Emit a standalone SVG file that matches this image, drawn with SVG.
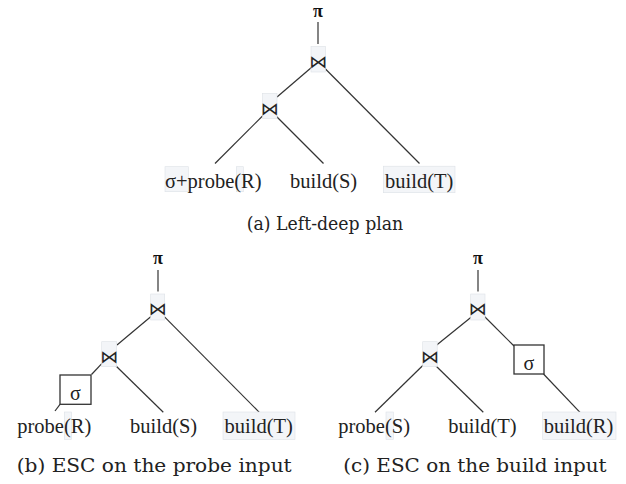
<svg xmlns="http://www.w3.org/2000/svg" width="626" height="484" viewBox="0 0 626 484">
<style>
.lbl{font-family:'Liberation Serif',Tinos,'Times New Roman',serif;font-size:20.5px;fill:#222}
.pi{font-family:'Liberation Serif',Tinos,'Times New Roman',serif;font-size:18px;fill:#111;text-anchor:middle;font-weight:bold}
.sig{font-family:'Liberation Serif',Tinos,'Times New Roman',serif;font-size:20px;fill:#222;text-anchor:middle}
.cap{font-family:'DejaVu Serif',serif;font-size:18px;fill:#222}
.join{font-family:'DejaVu Sans',sans-serif;font-size:18px;fill:#222;text-anchor:middle}
.hl{fill:#f3f5f8;stroke:#dde1e6;stroke-width:0.6}
.box{fill:#fff;stroke:#333;stroke-width:1.3}
.edge{stroke:#333;stroke-width:1.2;fill:none}
</style>
<rect width="626" height="484" fill="#fff"/>
<g id="connectors">
<line class="edge" x1="318" y1="22" x2="318" y2="44"/>
<line class="edge" x1="312" y1="67" x2="277" y2="97"/>
<line class="edge" x1="323.5" y1="67" x2="419.5" y2="163.5"/>
<line class="edge" x1="263.5" y1="115" x2="215" y2="163.5"/>
<line class="edge" x1="275" y1="115" x2="323.5" y2="163.5"/>
<line class="edge" x1="158" y1="270" x2="158" y2="291.5"/>
<line class="edge" x1="151" y1="316.5" x2="117" y2="345"/>
<line class="edge" x1="164.3" y1="316.7" x2="259.3" y2="412.3"/>
<line class="edge" x1="115" y1="365" x2="163.3" y2="412.3"/>
<line class="edge" x1="102" y1="363.3" x2="91.5" y2="374.5"/>
<line class="edge" x1="60" y1="404.3" x2="55" y2="411"/>
<line class="edge" x1="478" y1="270" x2="478" y2="291.5"/>
<line class="edge" x1="471.7" y1="316.7" x2="436.7" y2="345"/>
<line class="edge" x1="484" y1="316" x2="514" y2="346"/>
<line class="edge" x1="543.5" y1="374" x2="580" y2="412.3"/>
<line class="edge" x1="423.3" y1="365" x2="375" y2="412.3"/>
<line class="edge" x1="435" y1="365" x2="483.3" y2="412.3"/>
</g>
<g id="a-pi"><text class="pi" x="318" y="16.5">π</text></g>
<g id="a-join1"><rect class="hl" x="311" y="46.5" width="14.5" height="25.5"/><text class="join" x="318.2" y="68">⋈</text></g>
<g id="a-join2"><rect class="hl" x="262.5" y="93.5" width="14.5" height="25"/><text class="join" x="269.7" y="115">⋈</text></g>
<g id="a-R"><rect class="hl" x="165" y="166.7" width="23.3" height="25"/><rect class="hl" x="236.3" y="166.7" width="7" height="25"/><text class="lbl" x="165" y="187.5">σ+probe(R)</text></g>
<g id="a-S"><text class="lbl" x="290" y="187.5">build(S)</text></g>
<g id="a-T"><rect class="hl" x="383.3" y="166.2" width="71.7" height="26.5"/><text class="lbl" x="385" y="187.5">build(T)</text></g>
<g id="a-cap"><text class="cap" x="246.7" y="230" textLength="156.6" lengthAdjust="spacingAndGlyphs">(a) Left-deep plan</text></g>

<g id="b-pi"><text class="pi" x="158" y="263.5">π</text></g>
<g id="b-join1"><rect class="hl" x="150.7" y="294" width="14" height="26"/><text class="join" x="157.7" y="315.3">⋈</text></g>
<g id="b-join2"><rect class="hl" x="101.7" y="341.7" width="15" height="25"/><text class="join" x="109.2" y="363">⋈</text></g>
<g id="b-sigma"><rect class="box" x="60" y="375" width="31" height="29.3"/><text class="sig" x="75.5" y="400">σ</text></g>
<g id="b-R"><rect class="hl" x="64.3" y="412" width="7.3" height="27.5"/><text class="lbl" x="17.3" y="433">probe(R)</text></g>
<g id="b-S"><text class="lbl" x="130" y="433">build(S)</text></g>
<g id="b-T"><rect class="hl" x="223" y="412" width="72" height="27.5"/><text class="lbl" x="224.5" y="433">build(T)</text></g>
<g id="b-cap"><text class="cap" x="16.7" y="471.7" textLength="275" lengthAdjust="spacingAndGlyphs">(b) ESC on the probe input</text></g>

<g id="c-pi"><text class="pi" x="478" y="263.5">π</text></g>
<g id="c-join1"><rect class="hl" x="470.7" y="294" width="14.3" height="26"/><text class="join" x="477.8" y="315.3">⋈</text></g>
<g id="c-join2"><rect class="hl" x="422.7" y="341.7" width="14.5" height="25"/><text class="join" x="429.9" y="363">⋈</text></g>
<g id="c-sigma"><rect class="box" x="514" y="345" width="30" height="29"/><text class="sig" x="529" y="370">σ</text></g>
<g id="c-S"><rect class="hl" x="386" y="412" width="7.3" height="27.5"/><text class="lbl" x="338.3" y="433">probe(S)</text></g>
<g id="c-T"><text class="lbl" x="448.3" y="433">build(T)</text></g>
<g id="c-R"><rect class="hl" x="542.7" y="412" width="73.3" height="27.5"/><text class="lbl" x="543.8" y="433">build(R)</text></g>
<g id="c-cap"><text class="cap" x="343.3" y="471.7" textLength="263.3" lengthAdjust="spacingAndGlyphs">(c) ESC on the build input</text></g>
</svg>
